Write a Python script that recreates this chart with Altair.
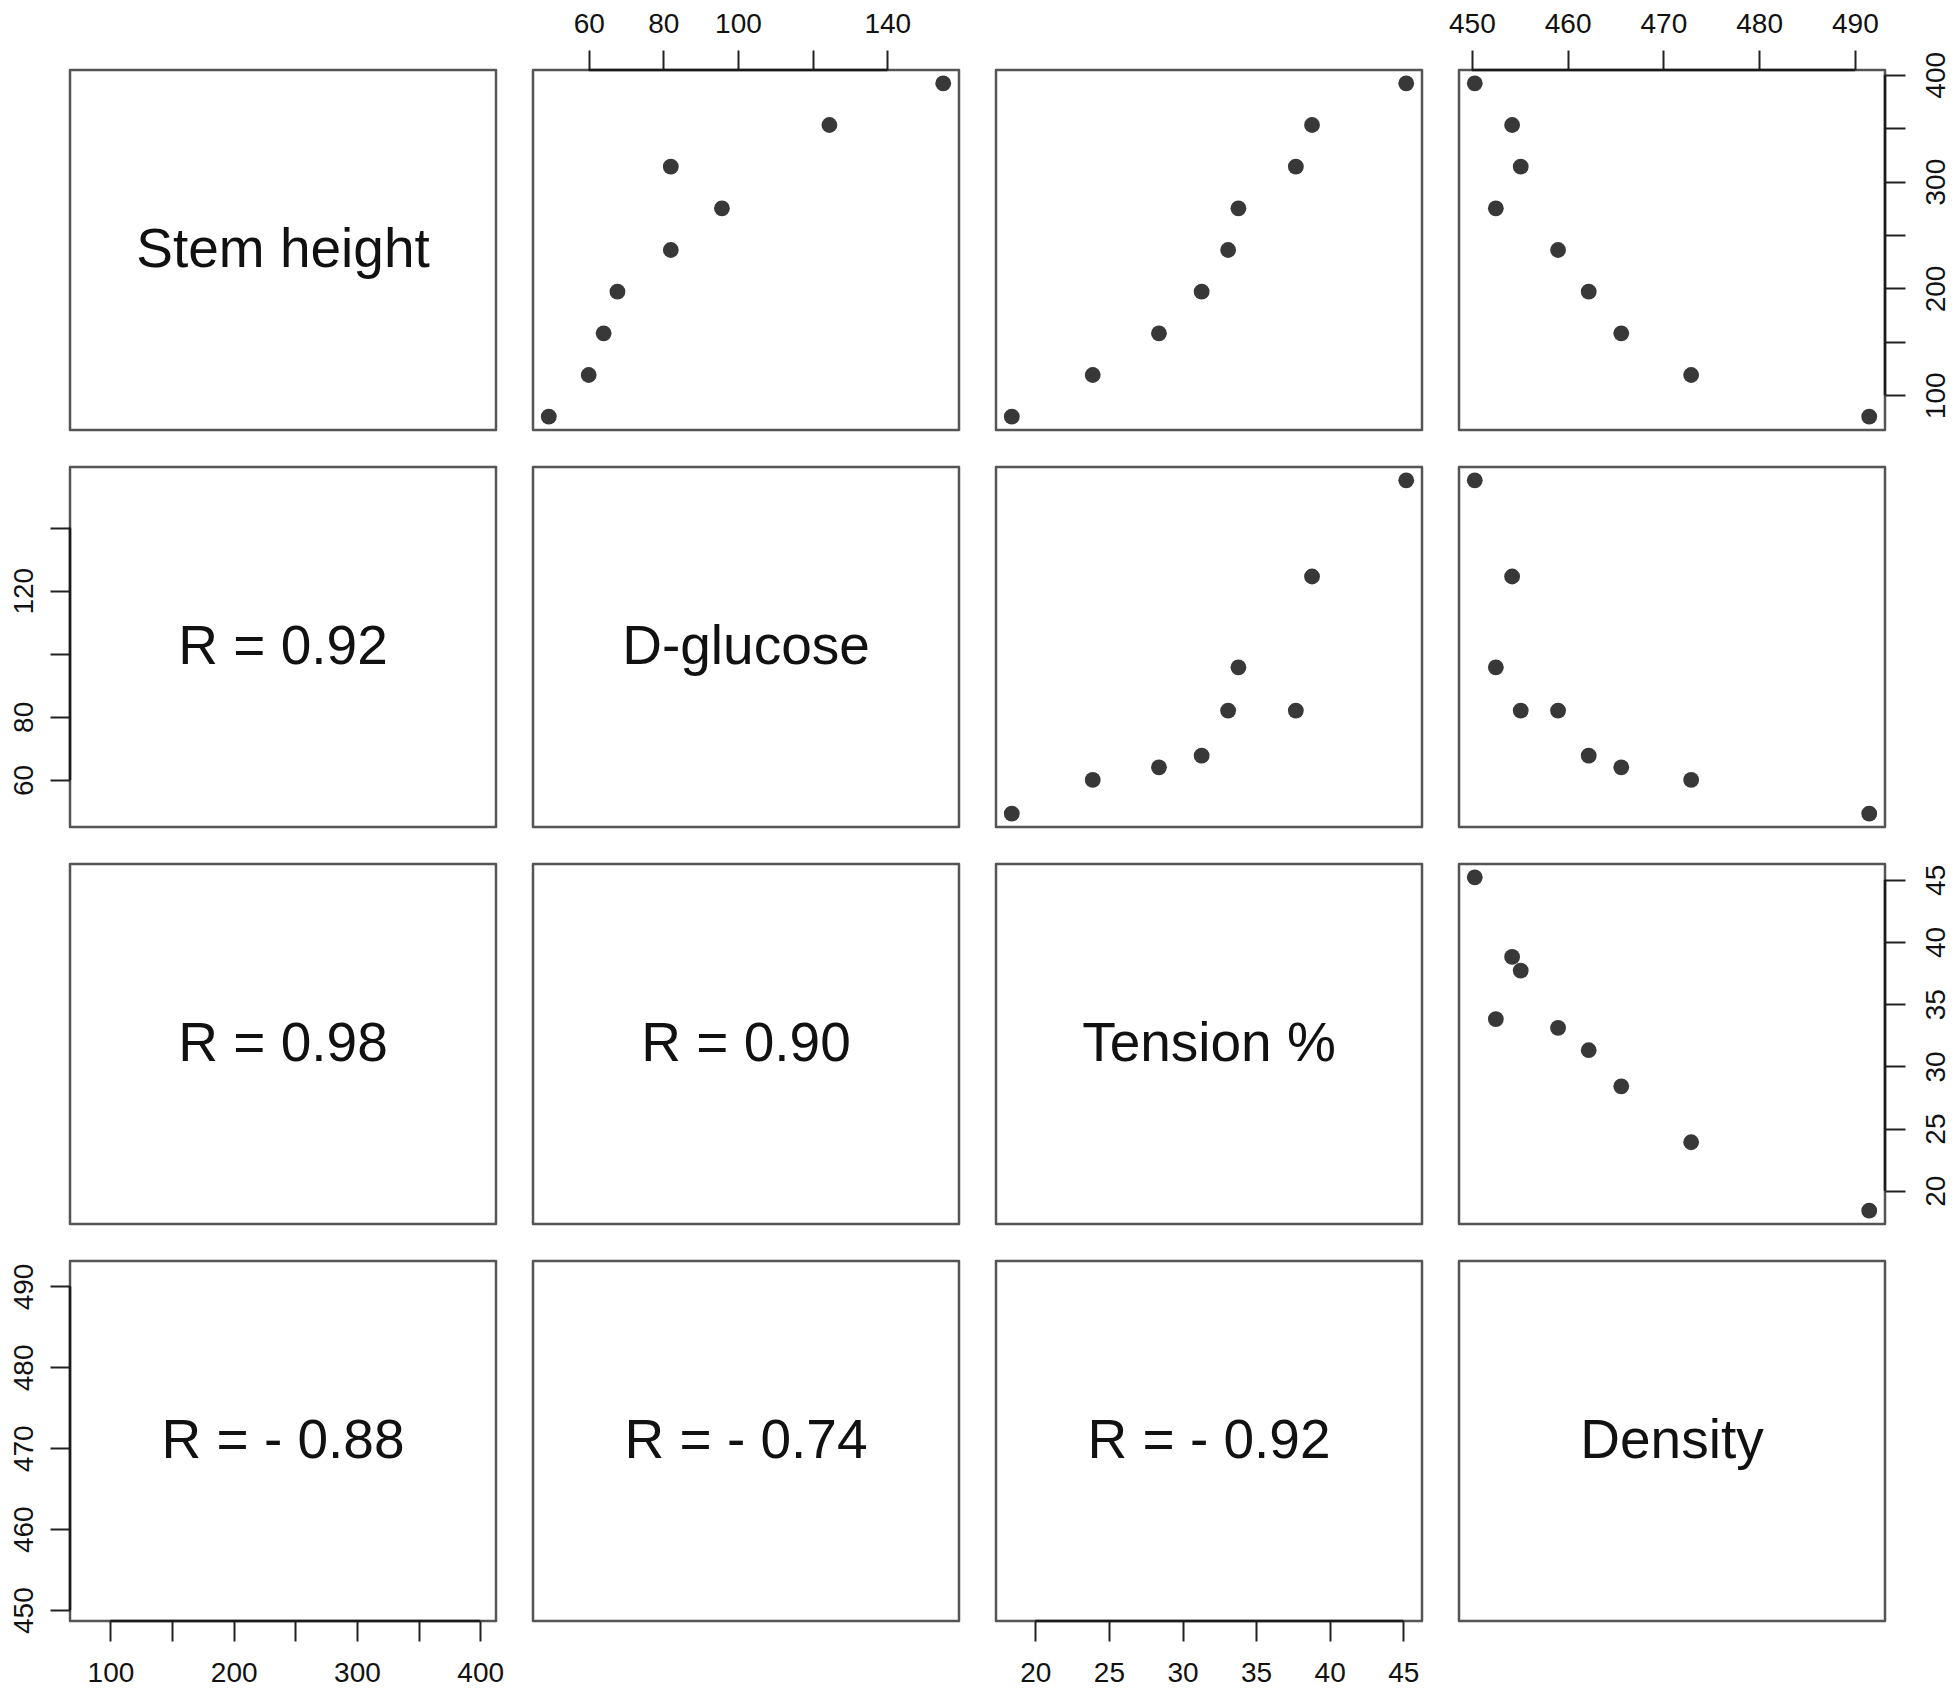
import altair as alt
import pandas as pd

# Variables of the pairs plot
names = ["Stem height", "D-glucose", "Tension %", "Density"]
fields = ["stem", "glucose", "tension", "density"]

stem = [80, 119, 158, 197, 236, 275, 314, 353, 392]
glucose = [49.3, 60, 64, 67.7, 82, 95.7, 82, 124.5, 155]
tension = [18.4, 23.9, 28.4, 31.3, 33.1, 33.8, 37.7, 38.8, 45.2]
density = [491.5, 472.9, 465.6, 462.2, 459.0, 452.5, 455.1, 454.2, 450.3]

# Correlation labels in the lower panels
r_cells = [(1, 0), (2, 0), (2, 1), (3, 0), (3, 1), (3, 2)]
r_texts = ["R = 0.92", "R = 0.98", "R = 0.90", "R = - 0.88", "R = - 0.74", "R = - 0.92"]

# Axis ticks and which tick labels are printed
ticks = {
    "stem": [100, 150, 200, 250, 300, 350, 400],
    "glucose": [60, 80, 100, 120, 140],
    "tension": [20, 25, 30, 35, 40, 45],
    "density": [450, 460, 470, 480, 490],
}
shown_labels = {
    ("top", "glucose"): [60, 80, 100, 140],
    ("top", "density"): [450, 460, 470, 480, 490],
    ("right", "stem"): [100, 200, 300, 400],
    ("right", "tension"): [20, 25, 30, 35, 40, 45],
    ("left", "glucose"): [60, 80, 120],
    ("left", "density"): [450, 460, 470, 480, 490],
    ("bottom", "stem"): [100, 200, 300, 400],
    ("bottom", "tension"): [20, 25, 30, 35, 40, 45],
}
# The printed stem-height x axis spans a slightly wider range than the points
stem_x_range = [80, 400]

df = pd.DataFrame({"stem": stem, "glucose": glucose, "tension": tension, "density": density})

FONT = "Liberation Sans, Arial, Helvetica, sans-serif"
W, H = 426, 360
TICK = 20
LABEL_PAD = {"top": 12, "bottom": 18, "left": 12, "right": 17}


def ext(lo, hi):
    d = (hi - lo) * 0.04
    return [lo - d, hi + d]


dom_y = {f: ext(min(df[f]), max(df[f])) for f in fields}
dom_x = dict(dom_y)
dom_x["stem"] = ext(*stem_x_range)


def make_axis(orient, field):
    shown = shown_labels[(orient, field)]
    rotated = orient in ("left", "right")
    base = {"top": "bottom", "bottom": "top", "left": "bottom", "right": "top"}[orient]
    return alt.Axis(
        orient=orient,
        values=ticks[field],
        labelExpr=f"indexof({shown}, datum.value) >= 0 ? datum.label : ''",
        domain=False,
        grid=False,
        ticks=True,
        tickSize=TICK,
        tickWidth=2,
        tickColor="#222222",
        labelFont=FONT,
        labelFontSize=28,
        labelColor="#111111",
        labelPadding=LABEL_PAD[orient],
        labelAngle=270 if rotated else 0,
        labelAlign="center",
        labelBaseline=base,
        labelOverlap=False,
        labelFlush=False,
        labelBound=False,
        title=None,
    )


def panel(i, j):
    fx, fy = fields[j], fields[i]
    xs = alt.Scale(domain=dom_x[fx], nice=False, zero=False)
    ys = alt.Scale(domain=dom_y[fy], nice=False, zero=False)

    x_orient = None
    if i == 0 and j in (1, 3):
        x_orient = "top"
    if i == 3 and j in (0, 2):
        x_orient = "bottom"
    y_orient = None
    if j == 3 and i in (0, 2):
        y_orient = "right"
    if j == 0 and i in (1, 3):
        y_orient = "left"
    x_axis = make_axis(x_orient, fx) if x_orient else None
    y_axis = make_axis(y_orient, fy) if y_orient else None

    layers = [
        alt.Chart(df).mark_circle(
            size=250, color="#383838", opacity=1 if i < j else 0
        ).encode(
            x=alt.X(f"{fx}:Q", scale=xs, axis=x_axis),
            y=alt.Y(f"{fy}:Q", scale=ys, axis=y_axis),
        )
    ]
    if i == j:
        label = names[i]
    elif i > j:
        label = r_texts[r_cells.index((i, j))]
    else:
        label = None
    if label:
        layers.append(
            alt.Chart(pd.DataFrame({"t": [label]})).mark_text(
                font=FONT, fontSize=55, color="#111111"
            ).encode(text="t:N")
        )

    # darker axis line spanning first to last tick, as R draws it
    if x_orient:
        t = ticks[fx]
        layers.append(
            alt.Chart(pd.DataFrame({"a": [t[0]], "b": [t[-1]]}))
            .mark_rule(color="#1a1a1a", strokeWidth=2.5)
            .encode(
                x=alt.X("a:Q", scale=xs, axis=x_axis),
                x2="b:Q",
                y=alt.value(0 if x_orient == "top" else H),
            )
        )
    if y_orient:
        t = ticks[fy]
        layers.append(
            alt.Chart(pd.DataFrame({"a": [t[0]], "b": [t[-1]]}))
            .mark_rule(color="#1a1a1a", strokeWidth=2.5)
            .encode(
                y=alt.Y("a:Q", scale=ys, axis=y_axis),
                y2="b:Q",
                x=alt.value(0 if y_orient == "left" else W),
            )
        )
    return alt.layer(*layers).properties(width=W, height=H)


panels = [panel(i, j) for i in range(4) for j in range(4)]

chart = alt.concat(
    *panels, columns=4, spacing={"row": 37, "column": 37}, bounds="flush"
).properties(
    padding={"left": 0, "top": 0, "right": 0, "bottom": -2},
    background="white",
).configure_view(
    stroke="#555555", strokeWidth=2.5, strokeJoin="round"
)

chart.save("out.html", embed_options={"renderer": "svg", "actions": False})
